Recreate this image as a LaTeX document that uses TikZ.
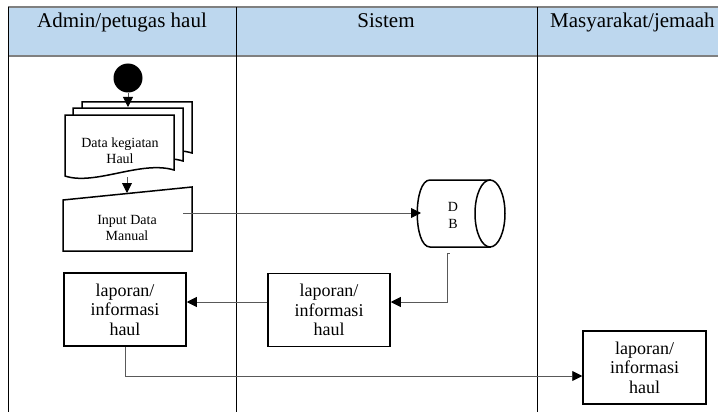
\documentclass[tikz,border=0pt]{standalone}
\usepackage{fontspec}
\setmainfont{Liberation Serif}
\usetikzlibrary{arrows.meta}
\definecolor{hdrfill}{HTML}{BDD7EE}
\begin{document}
\begin{tikzpicture}[x=1pt,y=-1pt,
  lane/.style={line width=0.8pt,black},
  hdrline/.style={line width=1.2pt,black!50},
  hdr/.style={font=\fontsize{21}{24}\selectfont,inner sep=0pt},
  shp/.style={draw=black,line width=1.5pt,fill=white},
  small/.style={font=\fontsize{14}{16}\selectfont,align=center,inner sep=0pt},
  boxn/.style={draw=black,line width=1.5pt,minimum width=122pt,minimum height=73pt,inner sep=0pt,align=center,font=\fontsize{18}{19.5}\selectfont},
  conn/.style={draw=black!65,line width=0.9pt},
  arr/.style={conn,-{Triangle[length=10pt,width=10pt,color=black,fill=black]}},
  ]
\useasboundingbox (0,0) rectangle (718,412);
% lanes
\fill[hdrfill] (8,7) rectangle (718,56);
\draw[hdrline] (8,7) -- (718,7);
\draw[hdrline] (8,56) -- (718,56);
\draw[lane] (8,7) -- (8,412);
\draw[lane] (236,7) -- (236,412);
\draw[lane] (537,7) -- (537,412);
\node[hdr,anchor=base] (h1) at (122,28) {Admin/petugas haul};
\node[hdr,anchor=base] (h2) at (386,28) {Sistem};
\node[hdr,anchor=base west] (h3) at (550,28) {Masyarakat/jemaah};
% start
\node[circle,fill=black,minimum size=29pt,inner sep=0pt] (start) at (128,78) {};
% multi document
\draw[shp] (82,102) -- (192,102) -- (192,153) .. controls (159,143) and (113,169) .. (82,159) -- cycle;
\draw[shp] (73,108) -- (183,108) -- (183,161) .. controls (150,151) and (104,177) .. (73,167) -- cycle;
\draw[shp] (65,115) -- (174,115) -- (174,170) .. controls (141,160) and (95,186) .. (65,176) -- cycle;
\node[small] (doc) at (120,151) {Data kegiatan\\Haul};
\coordinate (docin) at (128,107);
\coordinate (docbot) at (127,177);
% manual input
\draw[shp] (63,200) -- (192,187) -- (192,251) -- (63,251) -- cycle;
\node[small] (inp) at (127,228) {Input Data\\Manual};
\coordinate (inptop) at (127,193);
\coordinate (inpout) at (183,213);
% database
\draw[shp] (490,180) -- (430,180) .. controls (413,180) and (413,247) .. (430,247) -- (490,247) -- cycle;
\draw[shp] (490,213.5) ellipse [x radius=15pt, y radius=33.5pt];
\node[font=\fontsize{14}{17}\selectfont,align=center,inner sep=0pt] (db) at (453,215) {D\\B};
\coordinate (dbin) at (421,213);
\coordinate (dbout) at (447,253);
% boxes
\node[boxn] (lap1) at (125,309.5) {laporan/\\informasi\\haul};
\node[boxn] (lap2) at (329,310) {laporan/\\informasi\\haul};
\node[boxn,minimum width=123pt] (lap3) at (644.5,367.5) {laporan/\\informasi\\haul};
% connectors
\draw[arr] (start) -- (docin);
\draw[arr] (docbot) -- (inptop);
\draw[arr] (inpout) -- (dbin);
\draw[conn] (dbout) -- ++(3,0);
\draw[arr] (dbout) |- ([yshift=8pt]lap2.east);
\draw[arr] ([yshift=8pt]lap2.west) -- ([yshift=8pt]lap2.west -| lap1.east);
\draw[arr] (lap1.south) |- ([yshift=-8.5pt]lap3.west);
\end{tikzpicture}
\end{document}
